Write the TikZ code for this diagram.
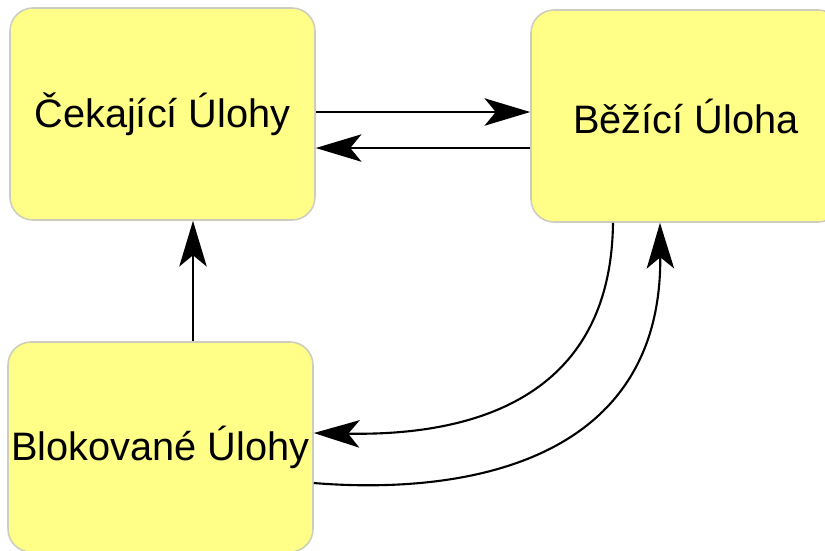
\documentclass[tikz,border=0pt]{standalone}
\usepackage{fontspec}
\setmainfont{Liberation Sans}
\usetikzlibrary{arrows.meta,calc}

\definecolor{zluta}{RGB}{255,255,136}
\definecolor{okraj}{RGB}{205,205,190}

\tikzset{
    stav/.style={draw=okraj, line width=0.45pt, fill=zluta, rounded corners=0.23cm,
        minimum width=3.05cm, minimum height=2.12cm, inner sep=0pt,
        font=\fontsize{11.3}{13}\selectfont},
    prechod/.style={line width=0.6pt, -{Stealth[length=13pt,width=7.8pt,inset=3.2pt]}}
}

\begin{document}
\begin{tikzpicture}
    \clip (0,0) rectangle (8.25,-5.5);

    % stavy uloh
    \node[stav] (cekajici) at (1.625,-1.14) {Čekající Úlohy};
    \node[stav, minimum width=3.10cm] (bezici) at (6.86,-1.16) {Běžící Úloha};
    \node[stav, minimum height=2.10cm] (blokovane) at (1.605,-4.47) {Blokované Úlohy};

    % prechody
    \draw[prechod] (cekajici.east |- 0,-1.12) -- (bezici.west |- 0,-1.12);
    \draw[prechod] (bezici.west |- 0,-1.48) -- (cekajici.east |- 0,-1.48);
    \draw[prechod] (blokovane.north -| 1.93,0) -- (cekajici.south -| 1.93,0);
    \draw[prechod] (bezici.south -| 6.13,0) .. controls (6.11,-4.00) and (4.70,-4.36) .. (blokovane.east |- 0,-4.33);
    \draw[prechod] (blokovane.east |- 0,-4.83) .. controls (4.60,-4.95) and (6.62,-4.65) .. (bezici.south -| 6.60,0);
\end{tikzpicture}
\end{document}
